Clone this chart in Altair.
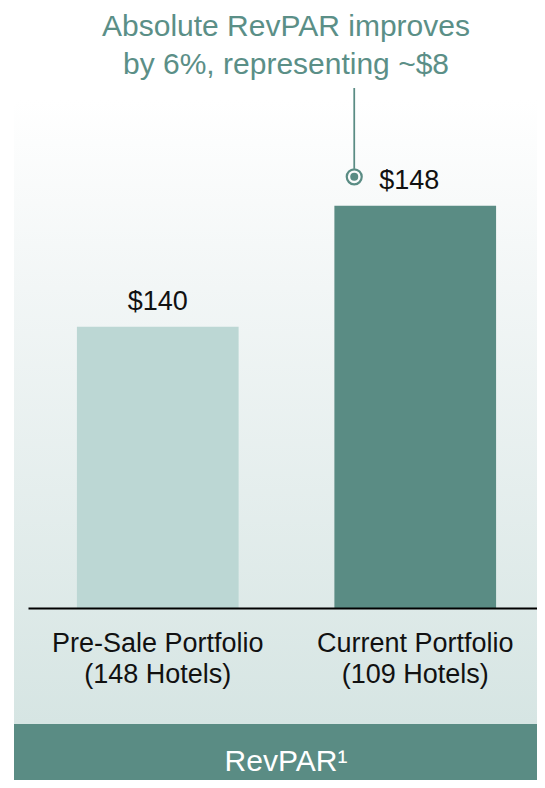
import altair as alt
import pandas as pd

# ---- data ----
categories = ["Pre-Sale Portfolio|(148 Hotels)", "Current Portfolio|(109 Hotels)"]
values = [140, 148]
value_labels = ["$140", "$148"]
bar_colors = ["#bcd7d4", "#5a8c84"]
title_lines = ["Absolute RevPAR improves", "by 6%, representing ~$8"]
footer_text = "RevPAR\u00b9"
y_domain = [121.4, 155.0]

FONT = "Liberation Sans"
TEAL = "#5a8c84"
TITLE_TEAL = "#5b8f87"

df = pd.DataFrame({
    "cat": categories,
    "value": values,
    "label": value_labels,
    "base": [y_domain[0]] * len(values),
})
one = pd.DataFrame({"k": [0]})

W, H = 509, 508      # drawable plot area (page is 545 wide incl. 8px margins)
XR = 517             # x range extends to the page's right edge

x_enc = alt.X(
    "cat:N",
    scale=alt.Scale(domain=categories, range=[0, XR], paddingInner=0.372, paddingOuter=0.19),
    axis=alt.Axis(
        title=None, ticks=False, tickSize=0, grid=False, zindex=2,
        labelExpr="split(datum.label, '|')",
        labelFont=FONT, labelFontSize=27, labelColor="#111111",
        labelPadding=43, labelBaseline="alphabetic", labelLineHeight=31,
        labelAngle=0, labelLimit=0, labelOverlap=False,
        domainColor="#000000", domainWidth=2,
    ),
)
y_scale = alt.Scale(domain=y_domain, zero=False, nice=False)

bg = alt.Chart(one).mark_rect(
    color=alt.LinearGradient(
        gradient="linear", x1=0, x2=0, y1=0, y2=1,
        stops=[
            alt.GradientStop(offset=0, color="#ffffff"),
            alt.GradientStop(offset=0.3, color="#f2f6f6"),
            alt.GradientStop(offset=1, color="#d6e5e3"),
        ],
    ),
    cornerRadiusTopLeft=6,
).encode(x=alt.value(-14), x2=alt.value(XR), y=alt.value(0), y2=alt.value(624))

band = alt.Chart(one).mark_rect(color=TEAL, cornerRadiusBottomLeft=7).encode(
    x=alt.value(-14), x2=alt.value(XR), y=alt.value(624), y2=alt.value(687)
)

bars = alt.Chart(df).mark_bar().encode(
    x=x_enc,
    y=alt.Y("value:Q", scale=y_scale, axis=None),
    y2="base:Q",
    color=alt.Color("cat:N", scale=alt.Scale(domain=categories, range=bar_colors), legend=None),
)

lbl_left = alt.Chart(df).transform_filter(alt.datum.cat == categories[0]).mark_text(
    font=FONT, fontSize=27, color="#111111", align="center", baseline="alphabetic", dy=-17
).encode(x=x_enc, y=alt.Y("value:Q", scale=y_scale, axis=None), text="label:N")

lbl_right = alt.Chart(df).transform_filter(alt.datum.cat == categories[1]).mark_text(
    font=FONT, fontSize=27, color="#111111", align="left", baseline="alphabetic", dx=-36, dy=-17
).encode(x=x_enc, y=alt.Y("value:Q", scale=y_scale, axis=None), text="label:N")

leader = alt.Chart(df).transform_filter(alt.datum.cat == categories[1]).mark_rule(
    color=TEAL, strokeWidth=1.75, xOffset=-61, yOffset=-37
).encode(x=x_enc, y=alt.Y("value:Q", scale=y_scale, axis=None), y2=alt.value(-12))

ring = alt.Chart(df).transform_filter(alt.datum.cat == categories[1]).mark_point(
    shape="circle", filled=False, size=225, stroke=TEAL, strokeWidth=2.2, opacity=1,
    xOffset=-61, yOffset=-29
).encode(x=x_enc, y=alt.Y("value:Q", scale=y_scale, axis=None))

dot = alt.Chart(df).transform_filter(alt.datum.cat == categories[1]).mark_point(
    shape="circle", filled=True, size=64, color=TEAL, opacity=1,
    xOffset=-61, yOffset=-29
).encode(x=x_enc, y=alt.Y("value:Q", scale=y_scale, axis=None))

title = alt.Chart(one).mark_text(
    text=title_lines, font=FONT, fontSize=30, color=TITLE_TEAL,
    align="center", baseline="alphabetic", lineHeight=38.5
).encode(x=alt.value(258), y=alt.value(-64.5))

footer = alt.Chart(one).mark_text(
    text=footer_text, font=FONT, fontSize=30, color="#ffffff",
    align="center", baseline="alphabetic"
).encode(x=alt.value(258), y=alt.value(671))

chart = alt.layer(bg, band, bars, lbl_left, lbl_right, leader, ring, dot, title, footer).properties(
    width=W, height=H,
    padding={"left": 20, "top": 92, "right": 0, "bottom": 172},
    autosize=alt.AutoSizeParams(type="none"),
    background="#ffffff",
).configure_view(stroke=None)

chart.save("out.html", embed_options={"renderer": "svg", "actions": False})
